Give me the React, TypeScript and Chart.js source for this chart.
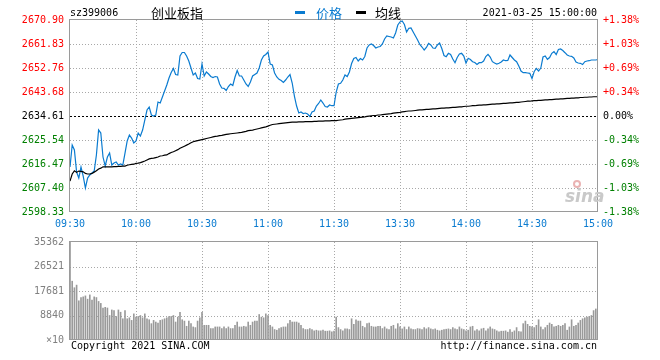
import React, { useEffect, useRef } from 'react';
import { Chart, registerables } from 'chart.js';

Chart.register(...registerables);

const PREV_CLOSE = 2634.61;
const PRICE_TICKS = [2598.33, 2607.4, 2616.47, 2625.54, 2634.61, 2643.68, 2652.76, 2661.83, 2670.9];
const PCT_TICKS = ['-1.38%', '-1.03%', '-0.69%', '-0.34%', '0.00%', '+0.34%', '+0.69%', '+1.03%', '+1.38%'];
const TIME_TICKS = ['09:30', '10:00', '10:30', '11:00', '11:30', '13:30', '14:00', '14:30', '15:00'];
const VOL_TICKS = [0, 8840, 17681, 26521, 35362];
const VOL_TICK_LABELS = ['×10', '8840', '17681', '26521', '35362'];

const PRICE_AM = [
  2615.33, 2623.65, 2621.76, 2613.44, 2611.17, 2615.33, 2611.93, 2607.39, 2611.17, 2612.31,
  2613.06, 2613.82, 2619.87, 2629.32, 2628.18, 2619.11, 2615.71, 2619.11, 2620.62, 2616.09,
  2616.84, 2617.22, 2616.09, 2616.47, 2616.09, 2620.62, 2625.16, 2627.43, 2626.29, 2624.4,
  2625.16, 2628.18, 2627.05, 2629.32, 2633.1, 2636.88, 2638.01, 2634.99, 2634.61, 2634.99,
  2639.9, 2639.52, 2641.79, 2644.06, 2646.33, 2648.97, 2651.05, 2652.57, 2650.3, 2650.11,
  2657.29, 2658.61, 2658.61, 2657.29, 2655.4, 2652.75, 2650.11, 2650.86, 2648.79, 2648.6,
  2654.27, 2649.73, 2651.24, 2650.49, 2649.54, 2649.16, 2649.54, 2649.35, 2646.71, 2645.19,
  2645.08, 2644.25, 2645.76, 2646.71, 2646.14, 2649.35, 2651.81, 2649.73, 2649.73, 2648.22,
  2646.71, 2645.76, 2647.46, 2649.73, 2650.3, 2650.86, 2652.75, 2655.78, 2657.29, 2657.86,
  2658.8, 2654.27, 2653.89, 2650.86, 2649.35, 2648.48, 2648.03, 2647.27, 2648.22, 2649.35,
  2650.3, 2647.08, 2642.17, 2638.39, 2635.74, 2636.12, 2635.56, 2635.74, 2635.37, 2634.42,
  2636.12, 2636.5, 2638.39, 2639.34, 2640.66, 2639.52, 2638.2, 2638.01, 2638.77, 2638.5,
  2638.5,
];
const PRICE_PM = [
  2643.68, 2646.71, 2646.97, 2648.22, 2650.11, 2649.54, 2651.24, 2654.46, 2656.35, 2656.72,
  2655.4, 2656.35, 2655.78, 2657.1, 2660.31, 2661.45, 2661.83, 2661.26, 2660.31, 2660.69,
  2660.88, 2661.83, 2663.72, 2664.85, 2664.66, 2664.47, 2664.09, 2665.98, 2669.01, 2670.14,
  2670.52, 2669.2, 2666.36, 2667.76, 2667.87, 2666.36, 2664.85, 2663.34, 2661.64, 2660.69,
  2659.56, 2660.5, 2662.02, 2661.45, 2660.31, 2660.2, 2661.45, 2662.2, 2660.13, 2657.48,
  2657.03, 2658.31, 2657.86, 2656.16, 2654.76, 2656.72, 2658.05, 2658.31, 2657.29, 2654.64,
  2656.42, 2655.97, 2655.14, 2654.83, 2654.08, 2654.76, 2654.76, 2655.4, 2657.1, 2657.93,
  2656.91, 2655.14, 2654.64, 2654.27, 2654.53, 2655.02, 2655.78, 2655.51, 2655.59, 2657.67,
  2656.72, 2655.78, 2655.14, 2653.51, 2651.62, 2650.98, 2650.98, 2650.86, 2650.75, 2648.79,
  2651.43, 2652.57, 2651.62, 2652.75, 2656.91, 2657.29, 2656.04, 2656.72, 2658.31, 2658.92,
  2657.86, 2659.75, 2659.94, 2659.37, 2658.54, 2657.67, 2657.29, 2657.18, 2656.53, 2655.02,
  2654.64, 2654.53, 2654.08, 2655.14, 2655.4, 2655.51, 2655.78, 2655.78, 2655.78, 2655.97,
];

const AVG_AM = [
  2610.0, 2612.7, 2613.9, 2613.3, 2613.8, 2613.7, 2613.5, 2612.9, 2612.7, 2612.7,
  2612.9, 2613.4, 2613.9, 2614.6, 2614.9, 2615.4, 2615.4, 2615.4, 2615.4, 2615.4,
  2615.5, 2615.5, 2615.6, 2615.6, 2615.7, 2615.7, 2616.0, 2616.2, 2616.3, 2616.4,
  2616.7, 2616.8, 2617.0, 2617.3, 2617.6, 2618.0, 2618.4, 2618.6, 2618.7, 2618.9,
  2619.1, 2619.5, 2619.6, 2619.8, 2619.9, 2620.4, 2620.8, 2621.1, 2621.5, 2621.9,
  2622.4, 2622.8, 2623.2, 2623.6, 2624.0, 2624.5, 2624.9, 2625.1, 2625.3, 2625.5,
  2625.7, 2625.9, 2626.1, 2626.3, 2626.5, 2626.7, 2626.9, 2627.0, 2627.2, 2627.3,
  2627.5, 2627.7, 2627.8, 2627.9, 2628.0, 2628.1, 2628.2, 2628.3, 2628.4, 2628.6,
  2628.8, 2629.1, 2629.2, 2629.3, 2629.5, 2629.7, 2629.9, 2630.1, 2630.3, 2630.5,
  2630.8, 2631.1, 2631.4, 2631.5, 2631.6, 2631.7, 2631.8, 2631.9, 2632.0, 2632.1,
  2632.2, 2632.3, 2632.3, 2632.3, 2632.4, 2632.4, 2632.4, 2632.5, 2632.5, 2632.5,
  2632.5, 2632.6, 2632.6, 2632.7, 2632.7, 2632.7, 2632.8, 2632.8, 2632.8, 2632.9,
  2632.9,
];
const AVG_PM = [
  2632.9, 2633.0, 2633.1, 2633.2, 2633.4, 2633.5, 2633.6, 2633.7, 2633.8, 2633.9,
  2634.0, 2634.1, 2634.2, 2634.3, 2634.5, 2634.6, 2634.7, 2634.8, 2634.8, 2635.0,
  2635.0, 2635.1, 2635.2, 2635.3, 2635.4, 2635.5, 2635.7, 2635.8, 2635.9, 2636.0,
  2636.2, 2636.3, 2636.4, 2636.5, 2636.5, 2636.6, 2636.7, 2636.8, 2636.9, 2636.9,
  2637.0, 2637.1, 2637.1, 2637.2, 2637.3, 2637.3, 2637.4, 2637.5, 2637.6, 2637.6,
  2637.7, 2637.7, 2637.8, 2637.9, 2637.9, 2638.0, 2638.1, 2638.1, 2638.2, 2638.3,
  2638.3, 2638.4, 2638.5, 2638.5, 2638.6, 2638.7, 2638.7, 2638.8, 2638.8, 2638.9,
  2639.0, 2639.1, 2639.1, 2639.2, 2639.2, 2639.3, 2639.4, 2639.4, 2639.5, 2639.6,
  2639.6, 2639.7, 2639.8, 2639.8, 2639.9, 2640.0, 2640.1, 2640.2, 2640.2, 2640.3,
  2640.4, 2640.4, 2640.5, 2640.5, 2640.6, 2640.7, 2640.7, 2640.8, 2640.8, 2640.9,
  2641.0, 2641.0, 2641.1, 2641.1, 2641.2, 2641.3, 2641.3, 2641.4, 2641.4, 2641.5,
  2641.5, 2641.6, 2641.6, 2641.7, 2641.7, 2641.8, 2641.8, 2641.9, 2641.9, 2641.9,
];

const VOL_AM = [
  35362, 21222, 18864, 19807, 14148, 15327, 15563, 15917, 14738, 16270,
  14384, 15563, 15327, 13912, 13205, 11554, 11790, 11554, 8843, 10847,
  10611, 8489, 10847, 10022, 7664, 10611, 7664, 8017, 7074, 9432,
  8253, 8489, 8843, 8017, 9432, 7664, 7310, 5895, 7074, 6485,
  6131, 7074, 7310, 7664, 8017, 8489, 8489, 8843, 6485, 8253,
  10022, 7310, 6838, 4952, 6838, 5895, 4716, 4480, 6838, 8017,
  10022, 5306, 5306, 5306, 4127, 4127, 4716, 4716, 4716, 4127,
  4716, 4127, 4716, 4127, 4127, 5306, 6485, 4716, 4716, 4952,
  4716, 6485, 5306, 6485, 6838, 6838, 9196, 8253, 8017, 9432,
  8843, 5306, 4716, 3773, 3537, 4127, 4480, 4716, 4716, 5895,
  7074, 6485, 6485, 6485, 6131, 5306, 4127, 3773, 3773, 4127,
  3773, 3301, 3537, 3301, 3301, 3537, 3183, 3183, 3301, 2948,
  3183,
];
const VOL_PM = [
  8253, 4480, 3773, 3301, 4009, 4009, 3773, 7664, 5659, 7310,
  6838, 6838, 4952, 4480, 5895, 6131, 4952, 4716, 4716, 4952,
  4952, 4127, 4716, 4009, 3773, 4952, 5306, 4009, 5895, 4716,
  4009, 4716, 3773, 4716, 4009, 3773, 3773, 4127, 4009, 3773,
  4480, 4009, 4480, 4009, 3773, 4009, 3537, 3301, 3537, 3773,
  3891, 4009, 3773, 4480, 4009, 3773, 4716, 4009, 3773, 3301,
  3537, 4716, 4952, 3301, 3773, 3301, 4009, 4244, 3301, 4009,
  4716, 4009, 3773, 3301, 2948, 3183, 3183, 3301, 2830, 3773,
  2830, 3301, 4480, 3065, 2948, 5895, 6838, 5659, 4952, 4716,
  4480, 5306, 7310, 4716, 3773, 4480, 5306, 6131, 5659, 4716,
  4952, 5306, 4952, 5306, 5895, 3537, 4716, 7310, 4952, 5306,
  6131, 7074, 7664, 8017, 8253, 8489, 8843, 10611, 11201, 590,
];

const PRICE = [...PRICE_AM, ...PRICE_PM];
const AVG = [...AVG_AM, ...AVG_PM];
const VOLUME = [...VOL_AM, ...VOL_PM];

const pad2 = (n: number) => (n < 10 ? '0' + n : '' + n);
const MINUTES: string[] = [];
for (let m = 9 * 60 + 30; m <= 11 * 60 + 30; m++) MINUTES.push(pad2(Math.floor(m / 60)) + ':' + pad2(m % 60));
for (let m = 13 * 60 + 1; m <= 15 * 60; m++) MINUTES.push(pad2(Math.floor(m / 60)) + ':' + pad2(m % 60));

const MONO = "'DejaVu Sans Mono', monospace";
const CJK = "'Noto Sans CJK SC', sans-serif";
const BLUE = '#0a7bd0';
const RED = '#ff0000';
const GREEN = '#008000';
const GRID = '#a8a8a8';
const FRAME = '#9a9a9a';

const tickColor = (v: number) => (v > PREV_CLOSE + 0.001 ? RED : v < PREV_CLOSE - 0.001 ? GREEN : '#000');

function crisp(v: number) {
  return Math.round(v) + 0.5;
}

function makeGridPlugin(yId: string, hLines: number[], dashedValue: number | null) {
  return {
    id: 'panelGrid_' + yId,
    beforeDatasetsDraw(chart: any) {
      const { ctx, chartArea } = chart;
      const xs = chart.scales.x;
      const ys = chart.scales[yId];
      ctx.save();
      ctx.lineWidth = 1;
      ctx.strokeStyle = GRID;
      ctx.setLineDash([1, 2]);
      for (let i = 30; i < 240; i += 30) {
        const x = crisp(xs.getPixelForValue(i));
        ctx.beginPath();
        ctx.moveTo(x, chartArea.top);
        ctx.lineTo(x, chartArea.bottom);
        ctx.stroke();
      }
      hLines.forEach((v) => {
        const y = crisp(ys.getPixelForValue(v));
        ctx.beginPath();
        ctx.moveTo(chartArea.left, y);
        ctx.lineTo(chartArea.right, y);
        ctx.stroke();
      });
      if (dashedValue !== null) {
        const y = crisp(ys.getPixelForValue(dashedValue));
        ctx.strokeStyle = '#000';
        ctx.setLineDash([2, 2]);
        ctx.beginPath();
        ctx.moveTo(chartArea.left, y);
        ctx.lineTo(chartArea.right, y);
        ctx.stroke();
      }
      ctx.restore();
    },
    afterDatasetsDraw(chart: any) {
      const { ctx, chartArea } = chart;
      ctx.save();
      ctx.lineWidth = 1;
      ctx.strokeStyle = FRAME;
      ctx.setLineDash([]);
      const l = crisp(chartArea.left) - 1;
      const r = crisp(chartArea.right) - 1;
      const t = crisp(chartArea.top) - 1;
      const b = crisp(chartArea.bottom) - 1;
      ctx.strokeRect(l, t, r - l, b - t);
      ctx.restore();
    },
  };
}

export default function App() {
  const topRef = useRef<HTMLCanvasElement | null>(null);
  const botRef = useRef<HTMLCanvasElement | null>(null);

  useEffect(() => {
    const priceChart = new Chart(topRef.current as HTMLCanvasElement, {
      type: 'line',
      data: {
        labels: MINUTES,
        datasets: [
          { label: '均线', data: AVG, borderColor: '#000', borderWidth: 1.2, pointRadius: 0, tension: 0, fill: false },
          { label: '价格', data: PRICE, borderColor: BLUE, borderWidth: 1.2, pointRadius: 0, tension: 0, fill: false },
        ],
      },
      options: {
        animation: false,
        responsive: false,
        events: [],
        layout: { padding: { top: 20, left: 0, right: 0, bottom: 0 } },
        plugins: { legend: { display: false }, tooltip: { enabled: false } },
        scales: {
          x: {
            type: 'category',
            offset: false,
            grid: { display: false, drawTicks: false },
            border: { display: false },
            afterFit: (s: any) => {
              s.height = 23;
            },
            ticks: {
              autoSkip: false,
              maxRotation: 0,
              minRotation: 0,
              padding: 6,
              color: BLUE,
              font: { family: MONO, size: 10 },
              callback: (_v: any, i: number) => (i % 30 === 0 ? TIME_TICKS[i / 30] : ''),
            },
          },
          y: {
            position: 'left',
            min: PRICE_TICKS[0],
            max: PRICE_TICKS[PRICE_TICKS.length - 1],
            grid: { display: false, drawTicks: false },
            border: { display: false },
            afterBuildTicks: (s: any) => {
              s.ticks = PRICE_TICKS.map((v) => ({ value: v }));
            },
            afterFit: (s: any) => {
              s.width = 70;
            },
            ticks: {
              autoSkip: false,
              padding: 6,
              font: { family: MONO, size: 10 },
              color: (c: any) => tickColor(c.tick.value),
              callback: (_v: any, i: number) => PRICE_TICKS[i].toFixed(2),
            },
          },
          y2: {
            position: 'right',
            min: PRICE_TICKS[0],
            max: PRICE_TICKS[PRICE_TICKS.length - 1],
            grid: { display: false, drawTicks: false },
            border: { display: false },
            afterBuildTicks: (s: any) => {
              s.ticks = PRICE_TICKS.map((v) => ({ value: v }));
            },
            afterFit: (s: any) => {
              s.width = 62;
            },
            ticks: {
              autoSkip: false,
              padding: 5,
              font: { family: MONO, size: 10 },
              color: (c: any) => tickColor(c.tick.value),
              callback: (_v: any, i: number) => PCT_TICKS[i],
            },
          },
        },
      } as any,
      plugins: [makeGridPlugin('y', PRICE_TICKS.slice(1, -1).filter((v) => v !== PREV_CLOSE), PREV_CLOSE)],
    });

    const volChart = new Chart(botRef.current as HTMLCanvasElement, {
      type: 'bar',
      data: {
        labels: MINUTES,
        datasets: [
          { label: '成交量', data: VOLUME, backgroundColor: '#9a9a9a', barThickness: 1, borderWidth: 0 },
        ],
      },
      options: {
        animation: false,
        responsive: false,
        events: [],
        layout: { padding: { top: 10, left: 0, right: 62, bottom: 20 } },
        plugins: { legend: { display: false }, tooltip: { enabled: false } },
        scales: {
          x: { type: 'category', offset: false, display: false, grid: { display: false } },
          y: {
            position: 'left',
            min: 0,
            max: VOL_TICKS[VOL_TICKS.length - 1],
            grid: { display: false, drawTicks: false },
            border: { display: false },
            afterBuildTicks: (s: any) => {
              s.ticks = VOL_TICKS.map((v) => ({ value: v }));
            },
            afterFit: (s: any) => {
              s.width = 70;
            },
            ticks: {
              autoSkip: false,
              padding: 6,
              font: { family: MONO, size: 10 },
              color: '#808080',
              callback: (_v: any, i: number) => VOL_TICK_LABELS[i],
            },
          },
        },
      } as any,
      plugins: [makeGridPlugin('y', VOL_TICKS.slice(1, -1), null)],
    });

    return () => {
      priceChart.destroy();
      volChart.destroy();
    };
  }, []);

  const text = (extra: React.CSSProperties): React.CSSProperties => ({
    position: 'absolute',
    whiteSpace: 'nowrap',
    fontFamily: MONO,
    fontSize: 10,
    lineHeight: '12px',
    color: '#000',
    ...extra,
  });

  return (
    <div style={{ position: 'fixed', left: 0, top: 0, width: 660, height: 360, background: '#fff', overflow: 'hidden' }}>
      <canvas ref={topRef} width={660} height={235} style={{ position: 'absolute', left: 0, top: 0, width: 660, height: 235 }} />
      <canvas ref={botRef} width={660} height={130} style={{ position: 'absolute', left: 0, top: 230, width: 660, height: 130 }} />

      <div style={text({ left: 70, top: 6.5 })}>sz399006</div>
      <div style={text({ left: 151, top: 4, fontFamily: CJK, fontSize: 13, lineHeight: '17px' })}>创业板指</div>
      <div style={{ position: 'absolute', left: 295, top: 11, width: 10, height: 3, background: BLUE }} />
      <div style={text({ left: 316, top: 4, fontFamily: CJK, fontSize: 13, lineHeight: '17px', color: BLUE })}>价格</div>
      <div style={{ position: 'absolute', left: 356, top: 11, width: 10, height: 3, background: '#000' }} />
      <div style={text({ left: 375, top: 4, fontFamily: CJK, fontSize: 13, lineHeight: '17px' })}>均线</div>
      <div style={text({ right: 63, top: 6.5 })}>2021-03-25 15:00:00</div>

      <div style={{ position: 'absolute', left: 573, top: 180, width: 8, height: 8, borderRadius: '50%', border: '2px solid #eab3b3', boxSizing: 'border-box' }} />
      <div style={text({ left: 565, top: 186, fontFamily: "'DejaVu Sans', sans-serif", fontSize: 17, lineHeight: '20px', fontStyle: 'italic', fontWeight: 'bold', color: '#c9c9c9' })}>sina</div>

      <div style={text({ left: 71, top: 340 })}>Copyright 2021 SINA.COM</div>
      <div style={text({ right: 63, top: 340 })}>http://finance.sina.com.cn</div>
    </div>
  );
}
